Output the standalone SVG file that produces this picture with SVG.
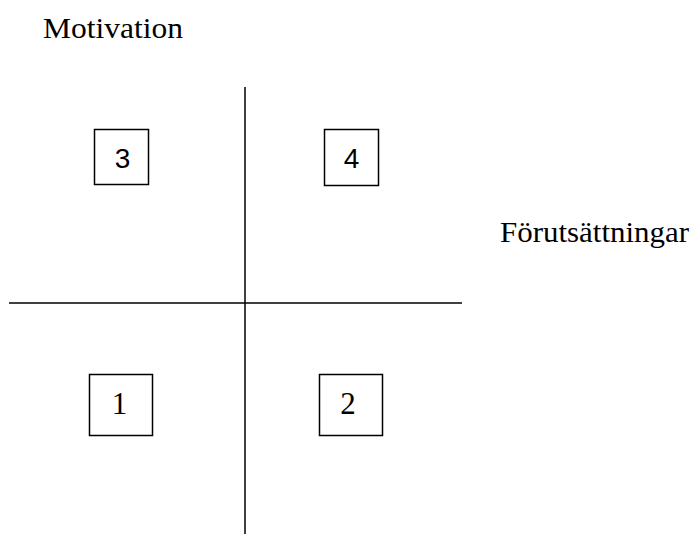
<svg xmlns="http://www.w3.org/2000/svg" width="694" height="534" viewBox="0 0 694 534">
<style>
.serif{font-family:"Liberation Serif","Times New Roman",serif;font-size:29px;fill:#000}
.num{font-family:"Liberation Serif","Times New Roman",serif;font-size:31px;fill:#000}
.sans{font-family:"Liberation Sans",Arial,sans-serif;font-size:28px;fill:#000}
.box{fill:#fff;stroke:#000;stroke-width:1.5}
.axis{stroke:#000;stroke-width:1.5;fill:none}
</style>
<rect width="694" height="534" fill="#fff"/>
<g id="axes">
<line class="axis" x1="245" y1="87" x2="245" y2="534"/>
<line class="axis" x1="9" y1="303" x2="462" y2="303"/>
</g>
<text id="motivation" class="serif" x="43" y="38" textLength="140" lengthAdjust="spacingAndGlyphs">Motivation</text>
<text id="forutsattningar" class="serif" x="500" y="242" textLength="189" lengthAdjust="spacingAndGlyphs">Förutsättningar</text>
<g id="box3"><rect class="box" x="94.5" y="129.5" width="54" height="55"/><text class="sans" x="122.5" y="168" text-anchor="middle">3</text></g>
<g id="box4"><rect class="box" x="324.5" y="129.5" width="54" height="56"/><text class="sans" x="351.5" y="168" text-anchor="middle">4</text></g>
<g id="box1"><rect class="box" x="89.5" y="374.5" width="63" height="61"/><text class="num" x="119.5" y="414" text-anchor="middle">1</text></g>
<g id="box2"><rect class="box" x="319.5" y="374.5" width="63" height="61"/><text class="num" x="348" y="414" text-anchor="middle">2</text></g>
</svg>
